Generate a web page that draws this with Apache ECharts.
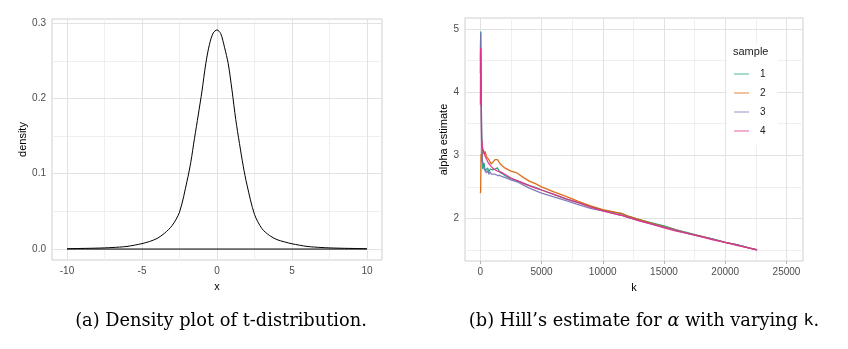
<!DOCTYPE html>
<html>
<head>
<meta charset="utf-8">
<script src="https://cdn.jsdelivr.net/npm/echarts@6/dist/echarts.min.js"></script>
<style>
html,body{margin:0;padding:0;background:#fff;}
#chart{width:848px;height:349px;}
</style>
</head>
<body>
<div id="chart"></div>
<script>
// ---- Panel (a): density of t-distribution ----
const densX = [-10,-9,-8,-7,-6,-5,-4.5,-4,-3.5,-3,-2.5,-2,-1.75,-1.5,-1.25,-1,-0.75,-0.5,-0.25,0,0.25,0.5,0.75,1,1.25,1.5,1.75,2,2.5,3,3.5,4,4.5,5,6,7,8,9,10];
const densY = [0.0005,0.0008,0.0012,0.002,0.0035,0.0072,0.010,0.014,0.021,0.031,0.049,0.090,0.115,0.147,0.178,0.210,0.246,0.272,0.287,0.291,0.286,0.268,0.246,0.211,0.172,0.140,0.110,0.085,0.046,0.027,0.018,0.0125,0.0095,0.007,0.0035,0.002,0.0012,0.0008,0.0005];
const baseX = [-10, 10];
const baseY = [0, 0];
const xTicksA = [-10,-5,0,5,10];
const xMinorA = [-7.5,-2.5,2.5,7.5];
const yTicksA = [0,0.1,0.2,0.3];
const yMinorA = [0.05,0.15,0.25];

// ---- Panel (b): Hill's estimate ----
const kVals = [5,30,60,100,150,200,300,400,500,600,700,800,900,1000,1200,1400,1600,1800,2000,2500,3000,3500,4000,4500,5000,6000,7000,8000,9000,10000,11000,11500,12000,13000,14000,15000,16000,17000,18000,19000,20000,21000,22000,22600];
const sample1 = [4.3,4.96,4.2,3.5,2.95,2.78,2.88,2.75,2.72,2.8,2.74,2.78,2.75,2.77,2.78,2.8,2.73,2.71,2.68,2.63,2.6,2.56,2.52,2.49,2.45,2.38,2.31,2.25,2.19,2.13,2.09,2.08,2.04,1.98,1.93,1.88,1.82,1.77,1.72,1.67,1.62,1.58,1.53,1.5];
const sample2 = [2.4,2.45,3.02,2.9,3.05,3.1,3.02,3.06,2.98,3.0,2.93,2.9,2.86,2.88,2.93,2.93,2.87,2.83,2.8,2.75,2.72,2.65,2.59,2.55,2.5,2.42,2.35,2.27,2.2,2.14,2.1,2.08,2.04,1.98,1.92,1.87,1.82,1.76,1.72,1.67,1.62,1.58,1.53,1.5];
const sample3 = [4.5,4.94,4.4,3.4,2.95,2.88,2.8,2.83,2.72,2.76,2.7,2.74,2.7,2.72,2.7,2.68,2.68,2.66,2.65,2.61,2.58,2.53,2.48,2.44,2.4,2.34,2.28,2.22,2.16,2.12,2.07,2.05,2.02,1.96,1.91,1.86,1.81,1.76,1.71,1.67,1.62,1.58,1.53,1.5];
const sample4 = [3.8,4.7,4.1,3.27,3.25,3.1,3.05,2.98,2.95,2.9,2.88,2.84,2.82,2.8,2.77,2.75,2.74,2.72,2.7,2.64,2.6,2.56,2.52,2.48,2.45,2.38,2.31,2.25,2.18,2.12,2.07,2.05,2.02,1.96,1.91,1.85,1.8,1.76,1.71,1.66,1.62,1.57,1.53,1.5];
const sampleNames = ['1','2','3','4'];
const sampleColors = ['#1B9E77','#D95F02','#7570B3','#E7298A'];
const xTicksB = [0,5000,10000,15000,20000,25000];
const xMinorB = [2500,7500,12500,17500,22500];
const yTicksB = [2,3,4,5];
const yMinorB = [1.5,2.5,3.5,4.5];

const zip = (a, b) => a.map((v, i) => [v, b[i]]);
const MAJOR = '#e2e2e2', MINOR = '#efefef';
function gridLines(xMaj, xMin, yMaj, yMin) {
  const d = [];
  xMin.forEach(v => d.push({xAxis: v, lineStyle: {color: MINOR, width: 1, type: 'solid'}}));
  yMin.forEach(v => d.push({yAxis: v, lineStyle: {color: MINOR, width: 1, type: 'solid'}}));
  xMaj.forEach(v => d.push({xAxis: v, lineStyle: {color: MAJOR, width: 1, type: 'solid'}}));
  yMaj.forEach(v => d.push({yAxis: v, lineStyle: {color: MAJOR, width: 1, type: 'solid'}}));
  return {silent: true, symbol: ['none','none'], label: {show: false}, animation: false, z: 1, data: d, emphasis: {disabled: true}};
}

const FONT = 'Liberation Sans, Arial, sans-serif';
const tickLbl = {color: '#4D4D4D', fontSize: 10, fontFamily: FONT};
const nameSty = {color: '#000', fontSize: 11, fontFamily: FONT};

const chart = echarts.init(document.getElementById('chart'), null, {renderer: 'canvas'});
const option = {
  animation: false,
  backgroundColor: '#fff',
  grid: [
    {left: 52, top: 19, width: 330, height: 241, show: true, borderColor: '#cfcfcf', borderWidth: 1, containLabel: false},
    {left: 465, top: 18, width: 338, height: 243, show: true, borderColor: '#cfcfcf', borderWidth: 1, containLabel: false}
  ],
  xAxis: [
    {type: 'value', gridIndex: 0, min: -11, max: 11, name: 'x', nameLocation: 'middle', nameGap: 21, nameTextStyle: nameSty,
     axisLine: {show: false}, splitLine: {show: false},
     axisTick: {show: true, length: 3, lineStyle: {color: '#b3b3b3'}, customValues: xTicksA},
     axisLabel: Object.assign({margin: 6, customValues: xTicksA, formatter: v => String(v)}, tickLbl)},
    {type: 'value', gridIndex: 1, min: -1250, max: 26350, name: 'k', nameLocation: 'middle', nameGap: 21, nameTextStyle: nameSty,
     axisLine: {show: false}, splitLine: {show: false},
     axisTick: {show: true, length: 3, lineStyle: {color: '#b3b3b3'}, customValues: xTicksB},
     axisLabel: Object.assign({margin: 6, customValues: xTicksB, formatter: v => String(v)}, tickLbl)}
  ],
  yAxis: [
    {type: 'value', gridIndex: 0, min: -0.01455, max: 0.3055, name: 'density', nameLocation: 'middle', nameGap: 16, nameTextStyle: nameSty,
     axisLine: {show: false}, splitLine: {show: false},
     axisTick: {show: true, length: 3, lineStyle: {color: '#b3b3b3'}, customValues: yTicksA},
     axisLabel: Object.assign({margin: 6, customValues: yTicksA, formatter: v => v.toFixed(1)}, tickLbl)},
    {type: 'value', gridIndex: 1, min: 1.325, max: 5.175, name: 'alpha estimate', nameLocation: 'middle', nameGap: 8, nameTextStyle: nameSty,
     axisLine: {show: false}, splitLine: {show: false},
     axisTick: {show: true, length: 3, lineStyle: {color: '#b3b3b3'}, customValues: yTicksB},
     axisLabel: Object.assign({margin: 6, customValues: yTicksB, formatter: v => String(v)}, tickLbl)}
  ],
  legend: {
    data: sampleNames,
    left: 727, top: 43,
    orient: 'vertical',
    backgroundColor: '#fff',
    padding: [25, 12, 8, 7],
    icon: 'rect',
    itemWidth: 15, itemHeight: 1.4, itemGap: 7,
    itemStyle: {opacity: 0.55},
    textStyle: {color: '#222', fontSize: 10, lineHeight: 12, fontFamily: FONT, padding: [0,0,0,6]},
    selectedMode: false
  },
  title: [{
    text: 'sample', left: 733, top: 46,
    textStyle: {fontSize: 11, fontWeight: 'normal', color: '#222', fontFamily: FONT},
    padding: 0
  }],
  graphic: [
    {type: 'text', x: 221, y: 321, style: {text: '(a) Density plot of t-distribution.', textAlign: 'center', textVerticalAlign: 'middle', fontSize: 17.8, fontFamily: 'DejaVu Serif, serif', fill: '#000'}},
    {type: 'text', x: 644, y: 321, style: {text: "(b) Hill’s estimate for {i|α} with varying {m|k}.", textAlign: 'center', textVerticalAlign: 'middle', fontSize: 17.8, fontFamily: 'DejaVu Serif, serif', fill: '#000',
      rich: {i: {fontStyle: 'italic', fontSize: 17.8, fontFamily: 'DejaVu Serif, serif'}, m: {fontSize: 16.5, fontFamily: 'DejaVu Sans Mono, Liberation Mono, monospace'}}}}
  ],
  series: [
    {type: 'line', name: 'base', xAxisIndex: 0, yAxisIndex: 0, data: zip(baseX, baseY), symbol: 'none', z: 3,
     lineStyle: {color: '#000', width: 1}, silent: true,
     markLine: gridLines(xTicksA, xMinorA, yTicksA, yMinorA)},
    {type: 'line', name: 'density', xAxisIndex: 0, yAxisIndex: 0, data: zip(densX, densY), symbol: 'none', smooth: 0.3, z: 3,
     lineStyle: {color: '#000', width: 1}, silent: true},
  ].concat([sample1, sample2, sample3, sample4].map((s, i) => ({
    type: 'line', name: sampleNames[i], xAxisIndex: 1, yAxisIndex: 1, data: zip(kVals, s), symbol: 'none', showSymbol: false, z: 3 + i,
    color: sampleColors[i],
    lineStyle: {color: sampleColors[i], width: 1.3, opacity: 0.9}, silent: true,
    markLine: i === 0 ? gridLines(xTicksB, xMinorB, yTicksB, yMinorB) : undefined
  })))
};
chart.setOption(option);
</script>
</body>
</html>
